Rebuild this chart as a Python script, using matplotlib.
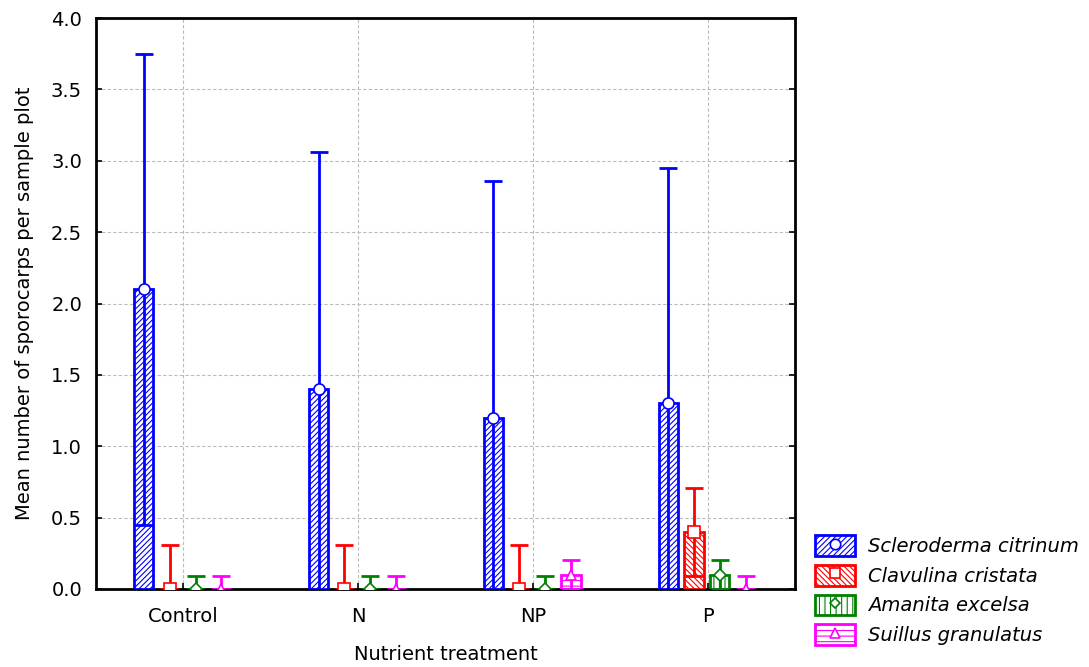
import matplotlib
matplotlib.use("Agg")
import matplotlib.pyplot as plt
import numpy as np
from matplotlib.patches import Patch
from matplotlib.lines import Line2D

plt.rcParams['font.family'] = ['DejaVu Sans']
plt.rcParams['hatch.linewidth'] = 0.8

categories = ["Control", "N", "NP", "P"]
species = ["Scleroderma citrinum", "Clavulina cristata", "Amanita excelsa", "Suillus granulatus"]
means_scleroderma = [2.1, 1.4, 1.2, 1.3]
err_scleroderma = [1.65, 1.66, 1.66, 1.65]
means_clavulina = [0.0, 0.0, 0.0, 0.4]
err_clavulina = [0.31, 0.31, 0.31, 0.31]
means_amanita = [0.0, 0.0, 0.0, 0.1]
err_amanita = [0.09, 0.09, 0.09, 0.1]
means_suillus = [0.0, 0.0, 0.1, 0.0]
err_suillus = [0.09, 0.09, 0.1, 0.09]

series_means = [means_scleroderma, means_clavulina, means_amanita, means_suillus]
series_errs = [err_scleroderma, err_clavulina, err_amanita, err_suillus]
colors = ["#0000ff", "#ff0000", "#008000", "#ff00ff"]
hatches = ["//////", "\\\\\\\\\\\\", "|||", "---"]
markers = ["o", "s", "D", "^"]
msizes = [8, 8, 6, 7]

fig = plt.figure(figsize=(10.89, 6.67), dpi=100)
ax = fig.add_axes([96/1089, 78/667, 699/1089, 571/667])

x = np.arange(len(categories))
step = 0.148
width = 0.11
offsets = (np.arange(4) - 1.5) * step - 0.004

for i in range(4):
    xs = x + offsets[i]
    ax.bar(xs, series_means[i], width=width, facecolor="white", edgecolor=colors[i],
           hatch=hatches[i], linewidth=2, zorder=3)
    ax.errorbar(xs, series_means[i], yerr=series_errs[i], fmt="none", ecolor=colors[i],
                elinewidth=2, capsize=6.8, capthick=2, zorder=4)
    ax.plot(xs, series_means[i], linestyle="none", marker=markers[i], markersize=msizes[i],
            markerfacecolor="white", markeredgecolor=colors[i], markeredgewidth=1.2, zorder=5)

ax.set_xlim(-0.5, 3.5)
ax.set_ylim(0, 4.0)
ax.set_yticks(np.arange(0, 4.01, 0.5))
ax.set_yticklabels([f"{v:.1f}" for v in np.arange(0, 4.01, 0.5)])
ax.set_xticks(x)
ax.set_xticklabels(categories)
ax.grid(True, color="#bbbbbb", linestyle=(0, (3, 2)), linewidth=0.8, zorder=0)
ax.set_axisbelow(True)
for s in ax.spines.values():
    s.set_linewidth(2)
ax.tick_params(direction="in", length=4, width=1.2, labelsize=14, right=True, top=False)
ax.tick_params(axis="y", pad=10)
ax.tick_params(axis="x", pad=13)

ax.set_ylabel("Mean number of sporocarps per sample plot", fontsize=14, labelpad=12)
ax.set_xlabel("Nutrient treatment", fontsize=14, labelpad=14)

handles = []
for i in range(4):
    p = Patch(facecolor="white", edgecolor=colors[i], hatch=hatches[i], linewidth=2)
    m = Line2D([], [], linestyle="none", marker=markers[i], markersize=msizes[i] - 0.5,
               markerfacecolor="white", markeredgecolor=colors[i], markeredgewidth=1.2)
    handles.append((p, m))
fig.legend(handles, species, loc="lower left", bbox_to_anchor=(815/1089, 22/667),
           frameon=False, prop={"style": "italic", "size": 14}, handlelength=2.05,
           handleheight=1.25, labelspacing=0.45, handletextpad=0.67,
           borderpad=0, borderaxespad=0)

fig.savefig("out.png", dpi=100)
